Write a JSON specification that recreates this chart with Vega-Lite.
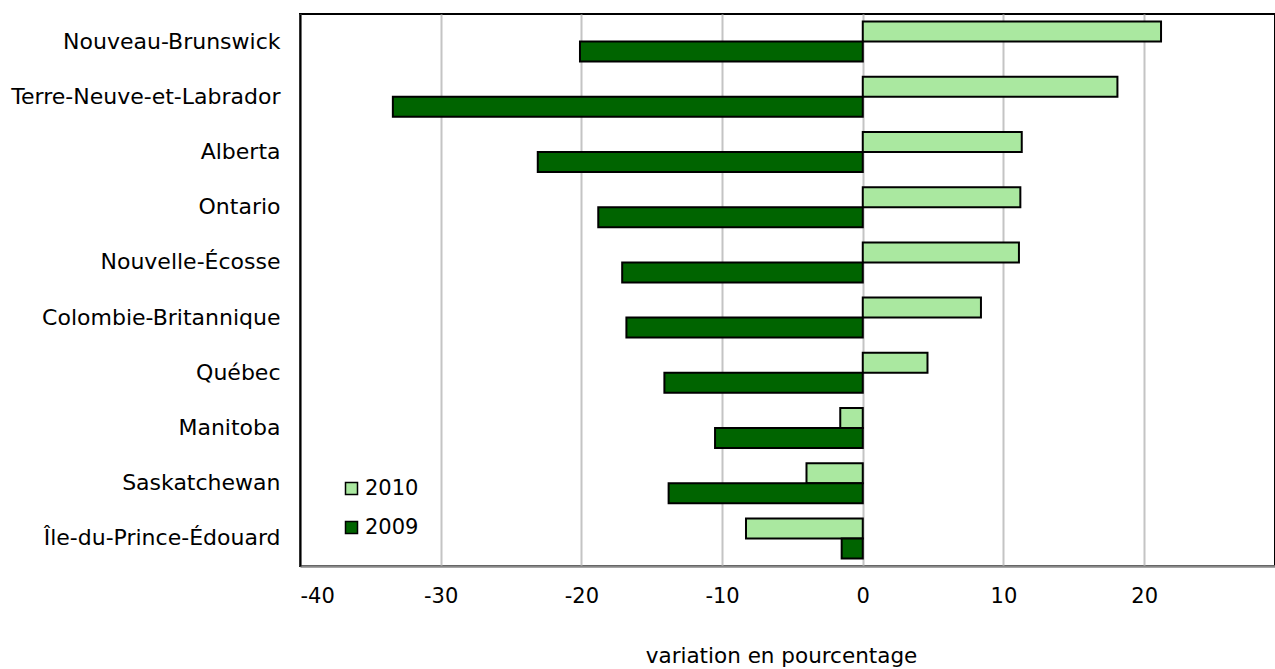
{
  "$schema": "https://vega.github.io/schema/vega-lite/v6.json",
  "width": 975,
  "height": 552,
  "autosize": "none",
  "padding": {"left": 300, "top": 14, "right": 0, "bottom": 103},
  "config": {"view": {"stroke": "#000", "strokeWidth": 2}, "font": "DejaVu Sans"},
  "data": {
    "values": [
      {"province": "Nouveau-Brunswick", "year": "2010", "value": 21.2},
      {"province": "Nouveau-Brunswick", "year": "2009", "value": -20.1},
      {"province": "Terre-Neuve-et-Labrador", "year": "2010", "value": 18.1},
      {"province": "Terre-Neuve-et-Labrador", "year": "2009", "value": -33.4},
      {"province": "Alberta", "year": "2010", "value": 11.3},
      {"province": "Alberta", "year": "2009", "value": -23.1},
      {"province": "Ontario", "year": "2010", "value": 11.2},
      {"province": "Ontario", "year": "2009", "value": -18.8},
      {"province": "Nouvelle-Écosse", "year": "2010", "value": 11.1},
      {"province": "Nouvelle-Écosse", "year": "2009", "value": -17.1},
      {"province": "Colombie-Britannique", "year": "2010", "value": 8.4},
      {"province": "Colombie-Britannique", "year": "2009", "value": -16.8},
      {"province": "Québec", "year": "2010", "value": 4.6},
      {"province": "Québec", "year": "2009", "value": -14.1},
      {"province": "Manitoba", "year": "2010", "value": -1.6},
      {"province": "Manitoba", "year": "2009", "value": -10.5},
      {"province": "Saskatchewan", "year": "2010", "value": -4.0},
      {"province": "Saskatchewan", "year": "2009", "value": -13.8},
      {"province": "Île-du-Prince-Édouard", "year": "2010", "value": -8.3},
      {"province": "Île-du-Prince-Édouard", "year": "2009", "value": -1.5}
    ]
  },
  "mark": {"type": "bar", "stroke": "#000", "strokeWidth": 2},
  "encoding": {
    "y": {
      "field": "province",
      "type": "nominal",
      "sort": ["Nouveau-Brunswick", "Terre-Neuve-et-Labrador", "Alberta", "Ontario", "Nouvelle-Écosse", "Colombie-Britannique", "Québec", "Manitoba", "Saskatchewan", "Île-du-Prince-Édouard"],
      "scale": {"paddingInner": 0.275, "paddingOuter": 0.1375},
      "axis": {"title": null, "labelFontSize": 22, "labelColor": "#000", "labelPadding": 20, "ticks": false, "domainColor": "#000", "domainWidth": 2, "labelLimit": 400}
    },
    "yOffset": {"field": "year", "type": "nominal", "sort": ["2010", "2009"]},
    "x": {
      "field": "value",
      "type": "quantitative",
      "scale": {"domain": [-40, 29.3], "nice": false, "zero": false},
      "axis": {
        "values": [-40, -30, -20, -10, 0, 10, 20],
        "labelExpr": "replace(datum.label, '−', '-')",
        "title": "variation en pourcentage",
        "titleFontSize": 21.5,
        "titleFontWeight": "normal",
        "titleColor": "#000",
        "titleX": 481,
        "titlePadding": 39,
        "labelFontSize": 21,
        "labelColor": "#000",
        "ticks": false,
        "labelPadding": 19,
        "domainColor": "#888",
        "domainWidth": 2.5,
        "gridColor": "#c4c4c4",
        "gridWidth": 2
      }
    },
    "color": {
      "field": "year",
      "type": "nominal",
      "scale": {"domain": ["2010", "2009"], "range": ["#aae8a0", "#006400"]},
      "legend": {
        "title": null,
        "orient": "none",
        "legendX": 41,
        "legendY": 464,
        "labelFontSize": 21,
        "labelColor": "#000",
        "symbolType": "square",
        "symbolSize": 144,
        "symbolStrokeColor": "#000",
        "symbolStrokeWidth": 1.5,
        "rowPadding": 17,
        "labelOffset": 3
      }
    }
  }
}
